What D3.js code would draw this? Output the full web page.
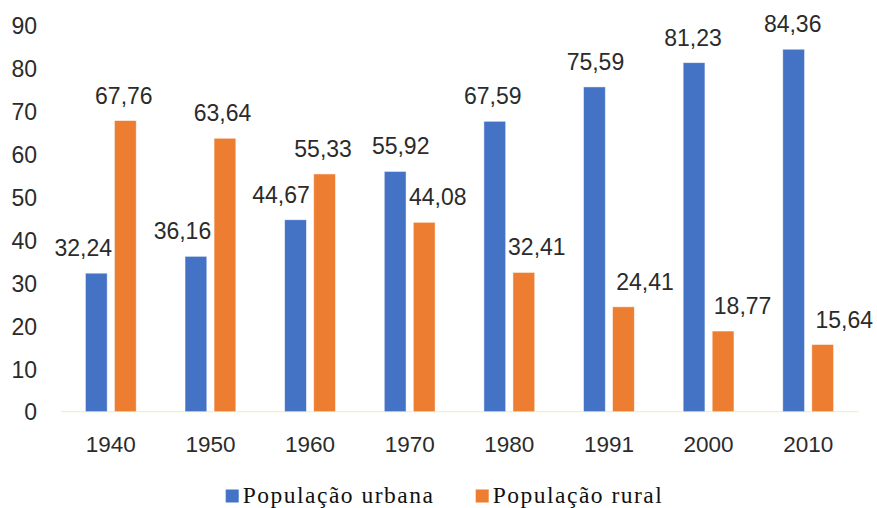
<!DOCTYPE html>
<html>
<head>
<meta charset="utf-8">
<script src="https://cdn.jsdelivr.net/npm/d3@7"></script>
<style>
  html, body { margin: 0; padding: 0; background: #fff; }
  svg { display: block; }
</style>
</head>
<body>
<svg id="chart" width="877" height="508"></svg>
<script>
// Census years and share of population (%) living in urban and rural areas
const years = ["1940", "1950", "1960", "1970", "1980", "1991", "2000", "2010"];
const urbana = [32.24, 36.16, 44.67, 55.92, 67.59, 75.59, 81.23, 84.36];
const rural = [67.76, 63.64, 55.33, 44.08, 32.41, 24.41, 18.77, 15.64];
const seriesNames = ["População urbana", "População rural"];
const yTicks = [0, 10, 20, 30, 40, 50, 60, 70, 80, 90];

// Horizontal nudges for value labels so neighbouring labels do not collide
const urbanaLabelShift = [-13, -13.5, -14.5, 5.5, -2, 1, -1, -1];
const ruralLabelShift = [-1.5, -2.5, -1.5, 13.5, 13, 21.5, 19.5, 21.5];

const colors = ["#4472C4", "#ED7D31"];
const textColor = "#2b2b2b";
const fmt = v => v.toFixed(2).replace(".", ",");

const svg = d3.select("#chart");

const x0 = d3.scaleBand()
  .domain(years)
  .range([61, 858])
  .paddingInner(0.49)
  .paddingOuter(0.245);

const x1 = d3.scaleBand()
  .domain(seriesNames)
  .range([0, x0.bandwidth()])
  .paddingInner(0.25);

const y = d3.scaleLinear()
  .domain([0, 90])
  .range([411.7, 25]);

const series = [
  { name: seriesNames[0], values: urbana, shift: urbanaLabelShift, color: colors[0] },
  { name: seriesNames[1], values: rural, shift: ruralLabelShift, color: colors[1] }
];

// Y axis labels (no axis line)
const yAxis = d3.axisLeft(y).tickValues(yTicks).tickSize(0).tickPadding(0);
const gy = svg.append("g").attr("transform", "translate(37,0)").call(yAxis);
gy.select(".domain").remove();
gy.selectAll("text")
  .attr("font-family", "'Liberation Sans', Arial, sans-serif")
  .attr("font-size", 23)
  .attr("fill", textColor)
  .attr("dy", "0.36em");

// Category axis with the pale baseline
const xAxis = d3.axisBottom(x0).tickSize(0).tickPadding(0);
const gx = svg.append("g").attr("transform", `translate(0,${y(0)})`).call(xAxis);
gx.select(".domain").remove();
gx.selectAll("text")
  .attr("font-family", "'Liberation Sans', Arial, sans-serif")
  .attr("font-size", 22.5)
  .attr("fill", textColor)
  .attr("y", 40)
  .attr("dy", 0);

svg.append("line")
  .attr("x1", x0.range()[0]).attr("x2", x0.range()[1])
  .attr("y1", y(0)).attr("y2", y(0))
  .attr("stroke", "#f4efc4")
  .attr("stroke-width", 1.2);

// Bars
const groups = svg.append("g").selectAll("g")
  .data(series)
  .join("g");

groups.selectAll("rect")
  .data(s => s.values.map((v, i) => ({ year: years[i], v, s })))
  .join("rect")
  .attr("x", d => x0(d.year) + x1(d.s.name))
  .attr("width", x1.bandwidth())
  .attr("y", d => y(d.v))
  .attr("height", d => y(0) - y(d.v))
  .attr("fill", d => d.s.color)
  .attr("stroke", "#ffffff")
  .attr("stroke-opacity", 0.6)
  .attr("stroke-width", 0.8);

// Value labels
groups.selectAll("text")
  .data(s => s.values.map((v, i) => ({ year: years[i], v, s, shift: s.shift[i] })))
  .join("text")
  .attr("x", d => x0(d.year) + x1(d.s.name) + x1.bandwidth() / 2 + d.shift)
  .attr("y", d => y(d.v) - 17)
  .attr("text-anchor", "middle")
  .attr("font-family", "'Liberation Sans', Arial, sans-serif")
  .attr("font-size", 23)
  .attr("fill", textColor)
  .text(d => fmt(d.v));

// Legend
const legendX = [225.7, 475.7];
const legend = svg.append("g").selectAll("g")
  .data(series)
  .join("g")
  .attr("transform", (d, i) => `translate(${legendX[i]},489.5)`);

legend.append("rect")
  .attr("width", 13)
  .attr("height", 13)
  .attr("fill", d => d.color);

legend.append("text")
  .attr("x", 17)
  .attr("y", 13)
  .attr("font-family", "'Liberation Serif', 'Times New Roman', serif")
  .attr("font-size", 23.5)
  .attr("letter-spacing", 1.5)
  .attr("fill", "#111")
  .text(d => d.name);
</script>
</body>
</html>
